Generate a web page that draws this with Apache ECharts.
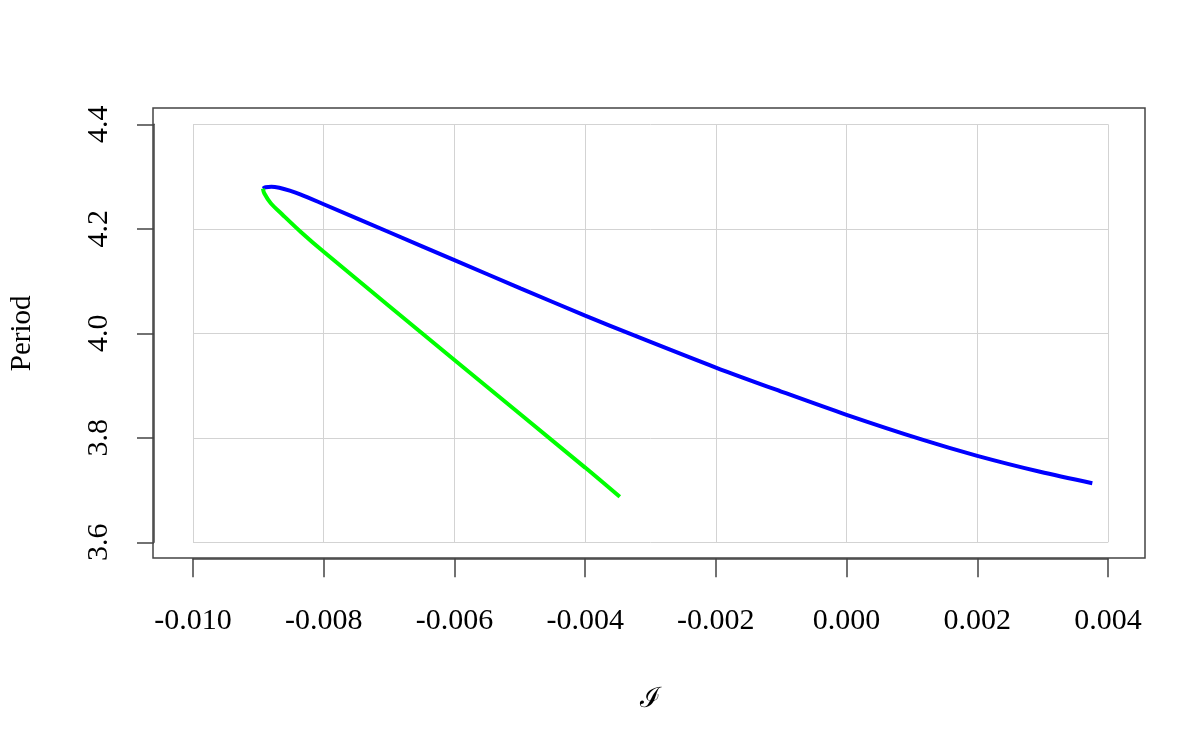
<!DOCTYPE html>
<html>
<head>
<meta charset="utf-8">
<title>Period</title>
<script src="https://cdn.jsdelivr.net/npm/echarts@6/dist/echarts.min.js"></script>
<style>
    html, body { margin: 0; padding: 0; background: #fff; }
    #main { width: 1196px; height: 737px; }
</style>
</head>
<body>
<div id="main"></div>
<script>
// blue branch
var blueX = [-0.00893, -0.00889, -0.00880, -0.00868, -0.00852, -0.00835, -0.0080, -0.00697, -0.0060, -0.00499,
    -0.0040, -0.00325, -0.0020, -0.00101, 0.0, 0.00117, 0.0020, 0.00296, 0.00376];
var blueY = [4.277, 4.2795, 4.2805, 4.2785, 4.273, 4.2655, 4.247, 4.192, 4.140, 4.086,
    4.034, 3.996, 3.9345, 3.889, 3.844, 3.796, 3.7655, 3.735, 3.713];

// green branch, starts at the same fold point
var greenX = [-0.00893, -0.00891, -0.00881, -0.00863, -0.00835, -0.0080, -0.0060, -0.0040, -0.00347];
var greenY = [4.277, 4.268, 4.249, 4.227, 4.194, 4.156, 3.949, 3.743, 3.687];

// axis ticks
var xTicks = [-0.010, -0.008, -0.006, -0.004, -0.002, 0.000, 0.002, 0.004];
var yTicks = [3.6, 3.8, 4.0, 4.2, 4.4];

function pairs(xs, ys) {
    return xs.map(function (x, i) { return [x, ys[i]]; });
}

function getOption() {
    var serif = "'Liberation Serif', 'Times New Roman', serif";
    var option = {
        backgroundColor: '#fff',
        animation: false,
        grid: [
            // outer box
            { left: 153, right: 51, top: 108, bottom: 179, show: true,
              borderColor: '#444', borderWidth: 1.5, backgroundColor: 'transparent' },
            // tick range (grid lines stop here)
            { left: 192, right: 88, top: 124.3, bottom: 194.7 }
        ],
        xAxis: [
            { gridIndex: 0, type: 'value', show: false, min: -0.0106, max: 0.00456 },
            {
                gridIndex: 1, type: 'value',
                min: xTicks[0], max: xTicks[xTicks.length - 1], interval: 0.002,
                position: 'bottom', offset: 16,
                name: 'ℐ', nameLocation: 'middle', nameGap: 127,
                nameTextStyle: { fontFamily: "'DejaVu Serif', serif", fontSize: 28, color: '#000' },
                axisLine: { show: true, onZero: false, lineStyle: { color: '#444', width: 1.5 } },
                axisTick: { show: true, inside: false, length: 19, lineStyle: { color: '#444', width: 1.5 } },
                axisLabel: {
                    margin: 48, fontFamily: serif, fontSize: 30, color: '#000',
                    formatter: function (v) {
                        if (Math.abs(v) < 1e-9) v = 0;
                        return v.toFixed(3);
                    }
                },
                splitLine: { show: true, lineStyle: { color: '#d3d3d3', width: 1 } }
            }
        ],
        yAxis: [
            { gridIndex: 0, type: 'value', show: false, min: 3.571, max: 4.4345 },
            {
                gridIndex: 1, type: 'value',
                min: yTicks[0], max: yTicks[yTicks.length - 1], interval: 0.2,
                position: 'left', offset: 39,
                name: 'Period', nameLocation: 'middle', nameRotate: 90, nameGap: 117,
                nameTextStyle: { fontFamily: serif, fontSize: 29, color: '#000' },
                axisLine: { show: true, onZero: false, lineStyle: { color: '#444', width: 1.5 } },
                axisTick: { show: true, inside: false, length: 17, lineStyle: { color: '#444', width: 1.5 } },
                axisLabel: {
                    margin: 40, rotate: 90, fontFamily: serif, fontSize: 30, color: '#000',
                    formatter: function (v) { return v.toFixed(1); }
                },
                splitLine: { show: true, lineStyle: { color: '#d3d3d3', width: 1 } }
            }
        ],
        series: [
            {
                type: 'line', xAxisIndex: 1, yAxisIndex: 1,
                data: pairs(blueX, blueY),
                showSymbol: false, smooth: 0.3,
                lineStyle: { color: '#0000ff', width: 4 }
            },
            {
                type: 'line', xAxisIndex: 1, yAxisIndex: 1,
                data: pairs(greenX, greenY),
                showSymbol: false, smooth: 0.3,
                lineStyle: { color: '#00ff00', width: 4 }
            }
        ]
    };
    return option;
}

var chart = echarts.init(document.getElementById('main'), null, { renderer: 'canvas' });
chart.setOption(getOption());
</script>
</body>
</html>
